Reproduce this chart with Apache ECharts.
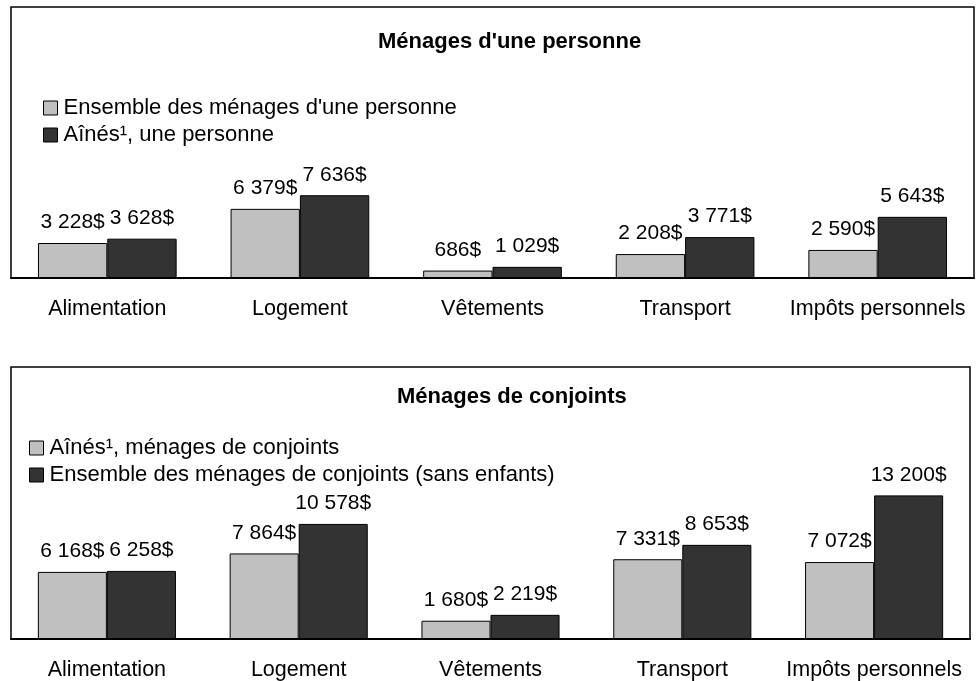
<!DOCTYPE html>
<html lang="fr">
<head>
    <meta charset="UTF-8"/>
    <title>Dépenses des ménages</title>
    <style>
        * {
            padding: 0;
            margin: 0;
        }

        body {
            background-color: white;
        }

        #chart {
            width: 976px;
            height: 681px;
        }
    </style>
    <script src="https://cdn.jsdelivr.net/npm/echarts@6/dist/echarts.min.js"></script>
</head>
<body>
<div id="chart"></div>
</body>
<script>
    const categories = ['Alimentation', 'Logement', 'Vêtements', 'Transport', 'Impôts personnels']

    // panneau du haut
    const title1 = "Ménages d'une personne"
    const names1 = ["Ensemble des ménages d'une personne", 'Aînés¹, une personne']
    const light1 = [3228, 6379, 686, 2208, 2590]
    const dark1 = [3628, 7636, 1029, 3771, 5643]

    // panneau du bas
    const title2 = 'Ménages de conjoints'
    const names2 = ['Aînés¹, ménages de conjoints', 'Ensemble des ménages de conjoints (sans enfants)']
    const light2 = [6168, 7864, 1680, 7331, 7072]
    const dark2 = [6258, 10578, 2219, 8653, 13200]

    const font = '"Liberation Sans", Arial, sans-serif'
    const lightColor = '#c0c0c0'
    const darkColor = '#333333'

    function money(v) {
        return String(v).replace(/\B(?=(\d{3})+(?!\d))/g, ' ') + '$'
    }

    function barSeries(name, data, color, idx) {
        return {
            name: name,
            type: 'bar',
            xAxisIndex: idx,
            yAxisIndex: idx,
            data: data,
            barGap: '0%',
            barCategoryGap: '28%',
            itemStyle: {
                color: color,
                borderColor: '#000',
                borderWidth: 1
            },
            label: {
                show: true,
                position: 'top',
                distance: 10,
                color: '#000',
                fontSize: 21,
                fontFamily: font,
                formatter: (p) => money(p.value)
            },
            emphasis: {disabled: true}
        }
    }

    function legend(names, left, top) {
        return {
            data: names,
            orient: 'vertical',
            left: left,
            top: top,
            padding: 0,
            icon: 'rect',
            itemWidth: 14,
            itemHeight: 14,
            itemGap: 5,
            selectedMode: false,
            itemStyle: {borderColor: '#000', borderWidth: 1},
            textStyle: {fontSize: 22, lineHeight: 22, color: '#000', fontFamily: font, padding: [0, 0, 0, 1]}
        }
    }

    function title(text, left, top) {
        return {
            text: text,
            left: left,
            top: top,
            padding: 0,
            textStyle: {fontSize: 22, fontWeight: 'bold', color: '#000', fontFamily: font}
        }
    }

    const xAxisBase = {
        type: 'category',
        data: categories,
        axisLine: {lineStyle: {color: '#000', width: 2}},
        axisTick: {show: false},
        axisLabel: {color: '#000', fontSize: 21.5, fontFamily: font, margin: 20, interval: 0}
    }

    const yAxisBase = {
        type: 'value',
        min: 0,
        max: 25000,
        show: false,
        splitLine: {show: false}
    }

    const chart = echarts.init(document.getElementById('chart'))

    chart.setOption({
        animation: false,
        backgroundColor: '#fff',
        title: [
            title(title1, 378, 31),
            title(title2, 397, 386)
        ],
        legend: [
            legend(names1, 43, 97),
            legend(names2, 29, 437)
        ],
        grid: [
            {left: 11, right: 2, top: 7, height: 271, show: true, borderColor: '#000', borderWidth: 1.5, backgroundColor: '#fff'},
            {left: 11, right: 6, top: 367, height: 272, show: true, borderColor: '#000', borderWidth: 1.5, backgroundColor: '#fff'}
        ],
        xAxis: [
            Object.assign({gridIndex: 0}, xAxisBase),
            Object.assign({gridIndex: 1}, xAxisBase)
        ],
        yAxis: [
            Object.assign({gridIndex: 0}, yAxisBase),
            Object.assign({gridIndex: 1}, yAxisBase)
        ],
        series: [
            barSeries(names1[0], light1, lightColor, 0),
            barSeries(names1[1], dark1, darkColor, 0),
            barSeries(names2[0], light2, lightColor, 1),
            barSeries(names2[1], dark2, darkColor, 1)
        ]
    })
</script>
</html>
